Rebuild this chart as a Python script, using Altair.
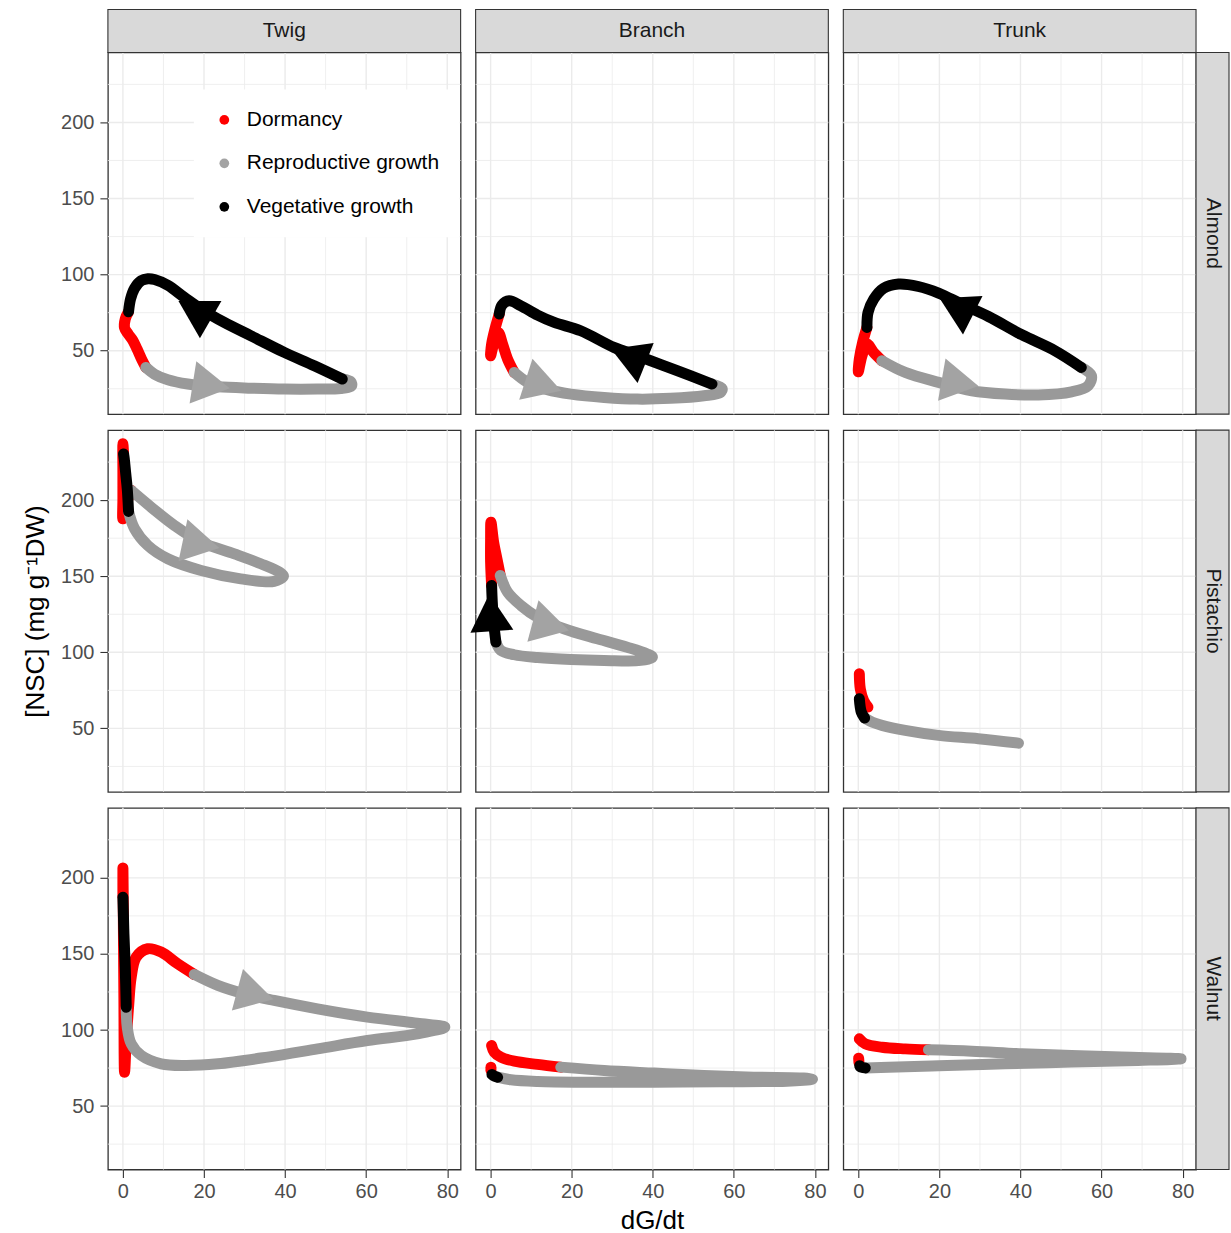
import altair as alt
import pandas as pd

# ---- categories, colours and axis breaks -------------------------------------
PHASES = ["Dormancy", "Reproductive growth", "Vegetative growth"]
LINE_COLORS = ["#ff0000", "#999999", "#000000"]
ARROW_COLORS = ["#ff0000", "#a3a3a3", "#000000"]
SPECIES = ["Almond", "Pistachio", "Walnut"]
ORGANS = ["Twig", "Branch", "Trunk"]

X_TICKS = [0, 20, 40, 60, 80]
X_MINOR = [10, 30, 50, 70]
Y_TICKS = [50, 100, 150, 200]
Y_MINOR = [25, 75, 125, 175, 225]
X_DOMAIN = [-3.7, 83.3]
Y_DOMAIN = [8.3, 246.0]

# ---- trajectories: (phase, dG/dt values, [NSC] values), in time order ------------
ALMOND_TWIG = [
    ("Dormancy", [1.39, 0.6, 0.4, 1.3, 2.4, 3.5, 4.6, 5.66],
                 [75.6, 71.0, 65.0, 61.0, 57.0, 51.0, 44.5, 39.0]),
    ("Reproductive growth", [5.66, 7.79, 11.07, 16.0, 23.4, 31.6, 39.8, 48.0, 53.7, 56.4, 56.2, 54.1],
                            [39.0, 34.6, 30.9, 28.1, 26.3, 25.4, 24.8, 24.8, 25.2, 27.0, 29.6, 31.4]),
    ("Vegetative growth", [54.1, 47.2, 39.8, 31.6, 25.0, 19.3, 15.2, 11.07, 7.79, 6.15, 4.51, 2.87, 1.89, 1.39],
                          [31.4, 40.1, 48.9, 59.8, 68.6, 77.4, 85.0, 93.0, 96.8, 97.3, 96.0, 91.0, 84.0, 75.6]),
]
ALMOND_BRANCH = [
    ("Dormancy", [2.13, 1.07, 0.25, 0.0, 0.74, 1.89, 2.95, 4.18, 5.82],
                 [74.1, 64.2, 54.4, 46.7, 54.4, 62.0, 54.4, 44.5, 35.7]),
    ("Reproductive growth", [5.82, 9.1, 14.0, 19.8, 28.0, 36.2, 44.4, 52.6, 56.7, 57.1, 54.6],
                            [35.7, 29.2, 24.4, 21.5, 19.3, 18.2, 18.7, 20.4, 22.6, 25.2, 28.1]),
    ("Vegetative growth", [54.6, 46.0, 36.2, 30.4, 22.2, 15.7, 11.57, 7.47, 4.59, 2.8, 2.13],
                          [28.1, 36.9, 46.7, 52.2, 63.1, 68.6, 73.4, 79.5, 82.8, 80.0, 74.1]),
]
ALMOND_TRUNK = [
    ("Dormancy", [2.13, 1.07, 0.25, 0.0, 0.9, 2.13, 3.77, 5.82],
                 [65.3, 55.5, 44.5, 36.2, 46.7, 54.4, 48.9, 43.4]),
    ("Reproductive growth", [5.82, 11.57, 19.8, 28.0, 36.2, 44.4, 52.6, 56.7, 57.5, 55.0],
                            [43.4, 35.7, 29.2, 23.7, 21.5, 20.9, 23.0, 27.0, 33.6, 39.0]),
    ("Vegetative growth", [55.0, 48.5, 40.3, 32.1, 25.5, 19.8, 14.8, 9.9, 6.2, 3.8, 2.4, 2.13],
                          [39.0, 50.0, 60.5, 72.5, 80.6, 87.9, 92.2, 93.8, 91.0, 83.9, 75.2, 65.3]),
]
PISTACHIO_TWIG = [
    ("Dormancy", [0.16, 0.0, 0.0, 0.0, 0.0, 0.82, 2.05],
                 [230.4, 237.0, 218.4, 200.9, 187.7, 197.6, 206.4]),
    ("Reproductive growth", [2.05, 6.97, 12.7, 19.3, 27.5, 34.0, 38.6, 39.6, 37.3, 29.1, 19.3, 11.07, 6.15, 2.87, 1.39],
                            [206.4, 195.4, 183.4, 172.4, 164.7, 158.2, 152.7, 150.1, 146.6, 148.3, 153.8, 161.5, 170.2, 181.2, 192.6]),
    ("Vegetative growth", [1.39, 1.07, 0.66, 0.33, 0.16],
                          [192.6, 207.4, 218.4, 227.2, 230.4]),
]
PISTACHIO_BRANCH = [
    ("Dormancy", [0.25, 0.0, 0.0, 0.08, 0.74, 1.56, 2.38],
                 [143.9, 159.3, 174.6, 185.5, 172.4, 161.5, 150.5]),
    ("Reproductive growth", [2.38, 4.18, 7.47, 11.57, 18.1, 26.3, 33.7, 38.6, 39.9, 37.0, 28.0, 19.8, 11.57, 5.82, 2.54, 1.31],
                            [150.5, 139.6, 130.8, 123.1, 115.5, 108.9, 103.4, 99.0, 96.8, 94.7, 94.7, 95.3, 96.6, 98.4, 101.2, 106.7]),
    ("Vegetative growth", [1.31, 0.74, 0.41, 0.25],
                          [106.7, 119.8, 133.0, 143.9]),
]
PISTACHIO_TRUNK = [
    ("Dormancy", [0.25, 0.49, 1.31, 2.38], [85.9, 76.0, 68.4, 64.0]),
    ("Vegetative growth", [0.25, 0.74, 1.56], [69.5, 60.7, 56.8]),
    ("Reproductive growth", [1.56, 3.5, 5.82, 11.57, 19.8, 29.6, 39.5],
                            [56.8, 54.0, 52.0, 48.7, 45.4, 43.2, 40.3]),
]
WALNUT_TWIG = [
    ("Dormancy", [0.0, 0.0, 0.08, 0.16, 0.25, 0.41, 0.82, 1.39, 2.05, 3.28, 6.15, 9.43, 13.5, 17.6],
                 [187.3, 206.5, 185.1, 152.3, 119.4, 72.3, 93.1, 115.0, 134.7, 147.9, 153.4, 151.2, 143.5, 136.5]),
    ("Reproductive growth", [17.6, 23.4, 29.9, 37.3, 48.0, 60.3, 72.6, 79.4, 72.6, 60.3, 48.0, 35.7, 23.4, 15.2, 9.43, 4.51, 2.05, 1.07, 0.82],
                            [136.5, 129.3, 123.8, 119.4, 113.9, 108.5, 104.5, 101.9, 97.5, 93.1, 87.6, 82.2, 77.8, 76.7, 77.8, 83.3, 90.9, 101.9, 115.0]),
    ("Vegetative growth", [0.82, 0.57, 0.25, 0.08, 0.0],
                          [115.0, 141.3, 163.2, 180.0, 187.3]),
]
WALNUT_BRANCH = [
    ("Dormancy", [0.25, 0.9, 2.54, 5.82, 11.57, 17.3], [89.8, 85.5, 82.2, 79.5, 77.4, 75.6]),
    ("Reproductive growth", [17.3, 28.0, 40.3, 52.6, 64.9, 77.2, 79.4, 73.1, 56.7, 40.3, 23.9, 11.57, 5.0, 1.72],
                            [75.6, 73.4, 71.7, 70.1, 69.0, 68.4, 67.7, 66.4, 66.0, 65.7, 65.7, 66.2, 67.3, 69.0]),
    ("Vegetative growth", [1.72, 0.74, 0.33], [69.0, 69.9, 70.8]),
    ("Dormancy", [0.08, 0.08], [73.5, 75.6]),
]
WALNUT_TRUNK = [
    ("Dormancy", [0.25, 1.72, 5.82, 11.57, 17.3], [94.2, 90.9, 88.7, 87.6, 87.0]),
    ("Reproductive growth", [17.3, 28.0, 40.3, 52.6, 64.9, 79.6, 69.0, 52.6, 36.2, 19.8, 7.47, 1.72],
                            [87.0, 86.1, 84.4, 83.3, 82.2, 81.1, 80.0, 78.9, 77.8, 76.5, 75.6, 75.1]),
    ("Vegetative growth", [1.72, 0.5, 0.33], [75.1, 75.8, 76.5]),
    ("Dormancy", [0.16, 0.08], [78.5, 81.5]),
]

TRAJECTORIES = {
    ("Almond", "Twig"): ALMOND_TWIG,
    ("Almond", "Branch"): ALMOND_BRANCH,
    ("Almond", "Trunk"): ALMOND_TRUNK,
    ("Pistachio", "Twig"): PISTACHIO_TWIG,
    ("Pistachio", "Branch"): PISTACHIO_BRANCH,
    ("Pistachio", "Trunk"): PISTACHIO_TRUNK,
    ("Walnut", "Twig"): WALNUT_TWIG,
    ("Walnut", "Branch"): WALNUT_BRANCH,
    ("Walnut", "Trunk"): WALNUT_TRUNK,
}

# direction arrows: (phase, dG/dt, [NSC], heading in degrees clockwise from up)
ARROWS = {
    ("Almond", "Twig"): [("Reproductive growth", 20.3, 27.9, 99), ("Vegetative growth", 19.0, 74.5, 300)],
    ("Almond", "Branch"): [("Reproductive growth", 11.6, 28.7, 108), ("Vegetative growth", 35.4, 45.0, 292)],
    ("Almond", "Trunk"): [("Reproductive growth", 23.6, 29.6, 100), ("Vegetative growth", 25.5, 77.0, 297)],
    ("Pistachio", "Twig"): [("Reproductive growth", 17.8, 172.0, 102)],
    ("Pistachio", "Branch"): [("Reproductive growth", 13.4, 118.5, 105), ("Vegetative growth", 0.1, 122.0, 356)],
    ("Walnut", "Twig"): [("Reproductive growth", 31.2, 124.4, 105)],
}

Y_TITLE = "[NSC] (mg g\u207b\u00b9DW)"
X_TITLE = "dG/dt"

# ---- layout ----------------------------------------------------------------------
W, H = 353, 362
STRIP_TOP = 43
STRIP_RIGHT = 33
FONT = "Liberation Sans"
GRID = "#ebebeb"

x_scale = alt.Scale(domain=X_DOMAIN, nice=False, zero=False)
y_scale = alt.Scale(domain=Y_DOMAIN, nice=False, zero=False)
line_scale = alt.Scale(domain=PHASES, range=LINE_COLORS)
arrow_scale = alt.Scale(domain=PHASES, range=ARROW_COLORS)


def panel(r, c):
    species, organ = SPECIES[r], ORGANS[c]

    # every layer that draws on a positional channel carries the same axis spec
    def xe(field):
        if r == 2:
            return alt.X(field, scale=x_scale, axis=alt.Axis(values=X_TICKS),
                         title=X_TITLE if c == 1 else None)
        return alt.X(field, scale=x_scale, axis=None)

    def ye(field):
        if c == 0:
            return alt.Y(field, scale=y_scale, axis=alt.Axis(values=Y_TICKS),
                         title=Y_TITLE if r == 1 else None)
        return alt.Y(field, scale=y_scale, axis=None)

    layers = []
    # panel grid (minor lines thinner than major ones)
    for vals, width in ((X_MINOR, 0.8), (X_TICKS, 1.4)):
        layers.append(
            alt.Chart(pd.DataFrame({"v": vals}))
            .mark_rule(color=GRID, strokeWidth=width)
            .encode(x=xe("v:Q"))
        )
    for vals, width in ((Y_MINOR, 0.8), (Y_TICKS, 1.4)):
        layers.append(
            alt.Chart(pd.DataFrame({"v": vals}))
            .mark_rule(color=GRID, strokeWidth=width)
            .encode(y=ye("v:Q"))
        )

    rows = []
    for s, (phase, xs, ys) in enumerate(TRAJECTORIES[(species, organ)]):
        for k, (xv, yv) in enumerate(zip(xs, ys)):
            rows.append({"seg": s, "k": k, "phase": phase, "x": xv, "y": yv})
    df = pd.DataFrame(rows)

    # red first, grey over it, black on top
    for phase in PHASES:
        layers.append(
            alt.Chart(df)
            .transform_filter(alt.datum.phase == phase)
            .mark_line(strokeWidth=11, strokeCap="round", strokeJoin="round",
                       interpolate="catmull-rom")
            .encode(
                x=xe("x:Q"),
                y=ye("y:Q"),
                color=alt.Color("phase:N", scale=line_scale, legend=None),
                detail="seg:N",
                order="k:Q",
            )
        )

    arrows = ARROWS.get((species, organ))
    if arrows:
        adf = pd.DataFrame(arrows, columns=["phase", "x", "y", "angle"])
        if (r, c) == (0, 0):
            legend = alt.Legend(
                orient="none", legendX=86, legendY=37, title=None,
                symbolType="circle", symbolSize=95, symbolStrokeWidth=0,
                symbolOpacity=1, labelFont=FONT, labelFontSize=21,
                labelColor="#000000", labelOffset=12, rowPadding=21.5,
                padding=20, fillColor="#ffffff", labelLimit=400,
            )
        else:
            legend = None
        layers.append(
            alt.Chart(adf)
            .mark_point(shape="triangle", filled=True, size=1850, opacity=1, strokeWidth=0)
            .encode(
                x=xe("x:Q"),
                y=ye("y:Q"),
                angle=alt.Angle("angle:Q", scale=None),
                fill=alt.Fill("phase:N", scale=arrow_scale, legend=legend),
            )
        )

    # facet strips
    if r == 0:
        sdf = pd.DataFrame({"label": [organ]})
        layers.append(
            alt.Chart(sdf)
            .mark_rect(fill="#d9d9d9", stroke="#333333", strokeWidth=1.1)
            .encode(x=alt.value(0), x2=alt.value(W), y=alt.value(-STRIP_TOP), y2=alt.value(0))
        )
        layers.append(
            alt.Chart(sdf)
            .mark_text(fontSize=21, color="#1a1a1a", font=FONT, baseline="middle")
            .encode(x=alt.value(W / 2), y=alt.value(-STRIP_TOP / 2), text="label:N")
        )
    if c == 2:
        sdf = pd.DataFrame({"label": [species]})
        layers.append(
            alt.Chart(sdf)
            .mark_rect(fill="#d9d9d9", stroke="#333333", strokeWidth=1.1)
            .encode(x=alt.value(W), x2=alt.value(W + STRIP_RIGHT), y=alt.value(0), y2=alt.value(H))
        )
        layers.append(
            alt.Chart(sdf)
            .mark_text(fontSize=21, color="#1a1a1a", font=FONT, angle=90, baseline="middle")
            .encode(x=alt.value(W + STRIP_RIGHT / 2), y=alt.value(H / 2), text="label:N")
        )

    return alt.layer(*layers).properties(width=W, height=H)


cells = [panel(r, c) for r in range(3) for c in range(3)]

chart = (
    alt.concat(*cells, columns=3, spacing={"row": 16, "column": 15}, bounds="flush")
    .resolve_scale(fill="independent")
    .resolve_legend(fill="independent")
    .properties(padding={"left": 21, "top": 7, "right": 0, "bottom": 0}, background="#ffffff")
    .configure(font=FONT)
    .configure_view(stroke="#333333", strokeWidth=1.3)
    .configure_axis(
        labelFont=FONT, labelFontSize=20, labelColor="#4d4d4d",
        tickColor="#333333", tickSize=8, tickWidth=1.1, labelPadding=6,
        domain=False, grid=False,
        titleFont=FONT, titleFontSize=26, titleFontWeight="normal",
        titleColor="#000000", titlePadding=12,
    )
    .configure_axisX(titlePadding=6, labelPadding=4)
)

chart.save("out.html", embed_options={"renderer": "svg", "actions": False})
